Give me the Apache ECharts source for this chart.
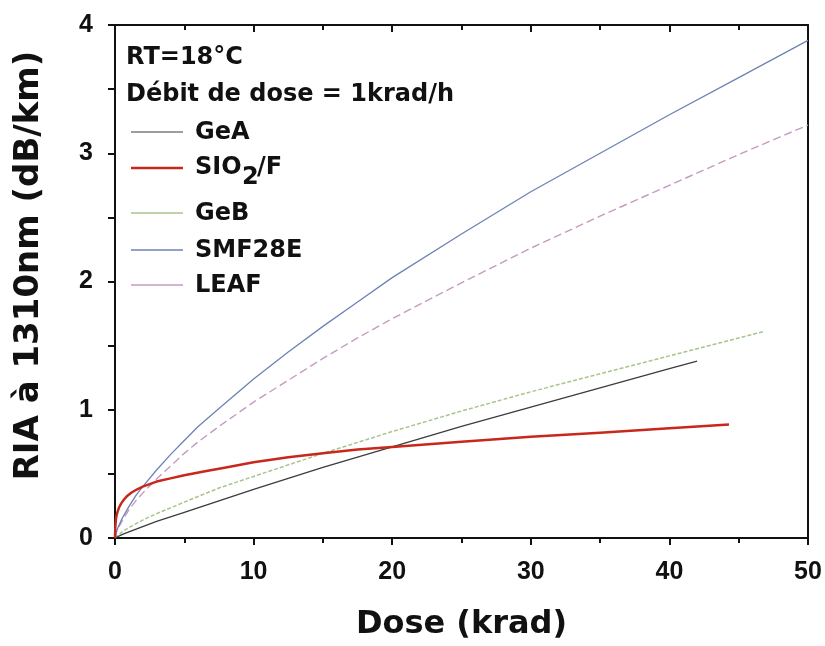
<!DOCTYPE html>
<html>
<head>
<meta charset="utf-8">
<script src="https://cdn.jsdelivr.net/npm/echarts@6/dist/echarts.min.js"></script>
<style>html,body{margin:0;padding:0;background:#fff;}#c{width:825px;height:646px;}</style>
</head>
<body>
<div id="c"></div>
<script>
// ---- data ----
const xTicks = [0, 10, 20, 30, 40, 50];
const yTicks = [0, 1, 2, 3, 4];

const seriesNames = ['GeA', 'SIO2/F', 'GeB', 'SMF28E', 'LEAF'];

const doseGeA = [0, 0.5, 1, 2, 3, 5, 7.5, 10, 15, 20, 25, 30, 35, 40, 42];
const riaGeA  = [0, 0.026, 0.048, 0.089, 0.13, 0.20, 0.29, 0.38, 0.55, 0.71, 0.87, 1.02, 1.17, 1.32, 1.38];

const doseSiO2 = [0, 0.02, 0.06, 0.12, 0.2, 0.3, 0.45, 0.65, 0.9, 1.2, 1.6, 2, 2.5, 3, 4, 5, 6.5, 8, 10, 12.5, 15, 17.5, 20, 25, 30, 35, 40, 44.3];
const riaSiO2  = [0, 0.08, 0.14, 0.18, 0.21, 0.24, 0.27, 0.30, 0.33, 0.355, 0.38, 0.40, 0.42, 0.44, 0.465, 0.49, 0.52, 0.55, 0.59, 0.63, 0.66, 0.69, 0.71, 0.75, 0.79, 0.82, 0.855, 0.885];

const doseGeB = [0, 0.5, 1, 2, 3, 5, 7.5, 10, 15, 20, 25, 30, 35, 40, 45, 46.8];
const riaGeB  = [0, 0.047, 0.081, 0.14, 0.19, 0.28, 0.39, 0.48, 0.66, 0.83, 0.99, 1.14, 1.28, 1.42, 1.56, 1.61];

const doseSMF = [0, 0.1, 0.25, 0.5, 1, 1.5, 2, 3, 4, 5, 6, 7.5, 10, 12.5, 15, 17.5, 20, 25, 30, 35, 40, 45, 50];
const riaSMF  = [0, 0.05, 0.09, 0.15, 0.245, 0.33, 0.40, 0.53, 0.65, 0.76, 0.87, 1.01, 1.24, 1.45, 1.65, 1.84, 2.03, 2.37, 2.70, 3.00, 3.30, 3.59, 3.88];

const doseLEAF = [0, 0.1, 0.25, 0.5, 1, 1.5, 2, 3, 4, 5, 6, 7.5, 10, 12.5, 15, 17.5, 20, 25, 30, 35, 40, 45, 50];
const riaLEAF  = [0, 0.045, 0.08, 0.13, 0.22, 0.29, 0.35, 0.46, 0.56, 0.66, 0.75, 0.87, 1.06, 1.23, 1.40, 1.56, 1.71, 1.99, 2.26, 2.51, 2.75, 2.99, 3.22];

// ---- styles ----
const colors = {GeA: '#3c3c3c', SiO2: '#c8281c', GeB: '#a9c48e', SMF: '#6f82b6', LEAF: '#c79ac0'};
const TXT = '"DejaVu Sans", sans-serif';
const NUM = '"Liberation Sans", Arial, sans-serif';

function pairs(xs, ys) { return xs.map((x, i) => [x, ys[i]]); }

function lineSeries(name, xs, ys, color, width, type) {
  return {
    name: name, type: 'line', data: pairs(xs, ys),
    showSymbol: false, smooth: false,
    lineStyle: {color: color, width: width, type: type || 'solid', join: 'round'},
    itemStyle: {color: color}, z: 3
  };
}

const chart = echarts.init(document.getElementById('c'), null, {renderer: 'canvas'});

// legend rows (custom, to allow the subscript)
const legendX0 = 131, legendX1 = 183, legendTextX = 195;
const legendRows = [
  {y: 132, color: colors.GeA, w: 1.2, label: 'GeA'},
  {y: 168, color: colors.SiO2, w: 2.5, label: null},
  {y: 213, color: colors.GeB, w: 1.5, label: 'GeB'},
  {y: 250, color: colors.SMF, w: 1.3, label: 'SMF28E'},
  {y: 285, color: colors.LEAF, w: 1.3, label: 'LEAF'}
];
const graphics = [
  {type: 'text', x: 126, y: 58, style: {text: 'RT=18°C', font: 'bold 24px ' + TXT, fill: '#111', verticalAlign: 'middle'}},
  {type: 'text', x: 126, y: 95, style: {text: 'Débit de dose = 1krad/h', font: 'bold 24px ' + TXT, fill: '#111', verticalAlign: 'middle'}}
];
legendRows.forEach(r => {
  graphics.push({type: 'line', shape: {x1: legendX0, y1: r.y, x2: legendX1, y2: r.y},
    style: {stroke: r.color, lineWidth: r.w}});
  if (r.label) {
    graphics.push({type: 'text', x: legendTextX, y: r.y + 1, style: {text: r.label, font: 'bold 24px ' + TXT, fill: '#111', verticalAlign: 'middle'}});
  }
});
// SIO2/F with subscript
graphics.push({type: 'text', x: legendTextX, y: 168, style: {text: 'SIO', font: 'bold 24px ' + TXT, fill: '#111', verticalAlign: 'middle'}});
graphics.push({type: 'text', x: legendTextX + 47, y: 178, style: {text: '2', font: 'bold 24px ' + TXT, fill: '#111', verticalAlign: 'middle'}});
graphics.push({type: 'text', x: legendTextX + 62, y: 168, style: {text: '/F', font: 'bold 24px ' + TXT, fill: '#111', verticalAlign: 'middle'}});

const option = {
  backgroundColor: '#fff',
  animation: false,
  grid: {left: 115, right: 17, top: 25, bottom: 105, containLabel: false},
  xAxis: [{
    type: 'value', min: xTicks[0], max: xTicks[xTicks.length - 1], interval: 10,
    name: 'Dose (krad)', nameLocation: 'middle', nameGap: 71,
    nameTextStyle: {fontFamily: TXT, fontWeight: 'bold', fontSize: 32, color: '#111'},
    axisLine: {show: true, onZero: false, lineStyle: {color: '#111', width: 2}},
    axisTick: {show: true, inside: false, length: 7, lineStyle: {color: '#111', width: 2}},
    minorTick: {show: true, splitNumber: 2, length: 5, lineStyle: {color: '#111', width: 2}},
    axisLabel: {fontFamily: NUM, fontWeight: 'bold', fontSize: 25, color: '#111', margin: 22},
    splitLine: {show: false}
  }, {
    type: 'value', position: 'top', min: 0, max: 50, interval: 10,
    axisLine: {show: true, onZero: false, lineStyle: {color: '#111', width: 2}},
    axisTick: {show: true, inside: true, length: 7, lineStyle: {color: '#111', width: 2}},
    minorTick: {show: true, splitNumber: 2, length: 5, lineStyle: {color: '#111', width: 2}},
    axisLabel: {show: false}, splitLine: {show: false}
  }],
  yAxis: [{
    type: 'value', min: yTicks[0], max: yTicks[yTicks.length - 1], interval: 1,
    name: 'RIA à 1310nm (dB/km)', nameLocation: 'middle', nameGap: 69, nameRotate: 90,
    nameTextStyle: {fontFamily: TXT, fontWeight: 'bold', fontSize: 34, color: '#111', padding: [0, 0, 0, 32]},
    axisLine: {show: true, onZero: false, lineStyle: {color: '#111', width: 2}},
    axisTick: {show: true, inside: false, length: 7, lineStyle: {color: '#111', width: 2}},
    minorTick: {show: true, splitNumber: 2, length: 7, lineStyle: {color: '#111', width: 2}},
    axisLabel: {fontFamily: NUM, fontWeight: 'bold', fontSize: 25, color: '#111', margin: 22},
    splitLine: {show: false}
  }, {
    type: 'value', position: 'right', min: 0, max: 4, interval: 1,
    axisLine: {show: true, onZero: false, lineStyle: {color: '#111', width: 2}},
    axisTick: {show: false}, axisLabel: {show: false}, splitLine: {show: false}
  }],
  graphic: graphics,
  series: [
    lineSeries(seriesNames[2], doseGeB, riaGeB, colors.GeB, 1.5, [4, 2]),
    lineSeries(seriesNames[0], doseGeA, riaGeA, colors.GeA, 1.3, 'solid'),
    lineSeries(seriesNames[4], doseLEAF, riaLEAF, colors.LEAF, 1.4, [8, 4]),
    lineSeries(seriesNames[3], doseSMF, riaSMF, colors.SMF, 1.3, 'solid'),
    lineSeries(seriesNames[1], doseSiO2, riaSiO2, colors.SiO2, 2.5, 'solid')
  ]
};
chart.setOption(option);
</script>
</body>
</html>
